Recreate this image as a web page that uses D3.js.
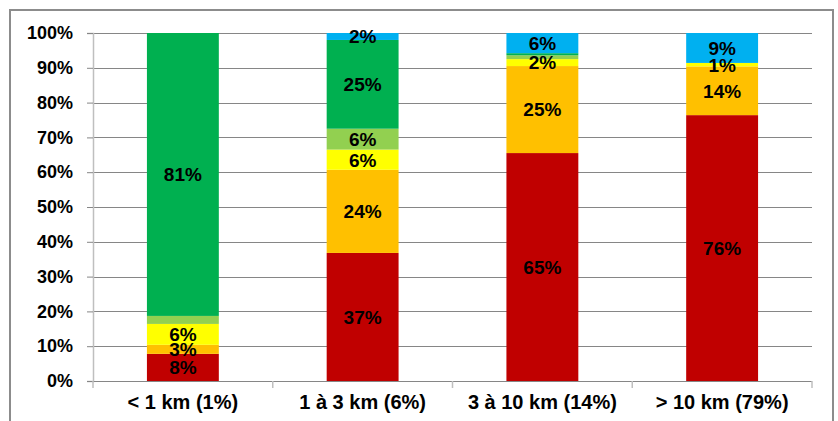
<!DOCTYPE html>
<html><head><meta charset="utf-8">
<script src="https://cdn.jsdelivr.net/npm/d3@7"></script>
<style>body{margin:0;background:#fff}svg{display:block}</style>
</head><body>
<svg id="c" width="838" height="421"></svg>
<script>
const categories = ["< 1 km (1%)", "1 à 3 km (6%)", "3 à 10 km (14%)", "> 10 km (79%)"];
const seriesNames = ["s1", "s2", "s3", "s4", "s5", "s6"];
const seriesColors = ["#C00000", "#FFC000", "#FFFF00", "#92D050", "#00B050", "#00B0F0"];
// values per series, one per category (percent)
const s1 = [7.8, 36.8, 65.5, 76.4];
const s2 = [2.6, 23.9, 25.0, 14.0];
const s3 = [6.0, 5.8, 2.0, 1.0];
const s4 = [2.3, 6.0, 1.1, 0.0];
const s5 = [81.3, 25.5, 0.6, 0.0];
const s6 = [0.0, 2.0, 5.8, 8.6];
const labelText = [
  ["8%", "37%", "65%", "76%"],
  ["3%", "24%", "25%", "14%"],
  ["6%", "6%", "2%", "1%"],
  [null, "6%", null, null],
  ["81%", "25%", null, null],
  [null, "2%", "6%", "9%"]
];
const yTicks = [0, 10, 20, 30, 40, 50, 60, 70, 80, 90, 100];

const seriesValues = [s1, s2, s3, s4, s5, s6];
const rows = categories.map((c, i) => {
  const r = {cat: c};
  seriesNames.forEach((s, j) => r[s] = seriesValues[j][i]);
  return r;
});
const stacked = d3.stack().keys(seriesNames)(rows);

const svg = d3.select("#c");
const m = {left: 93, right: 812, top: 33, bottom: 381};
const x = d3.scaleBand().domain(categories).range([m.left, m.right]).paddingInner(0.6).paddingOuter(0.3);
const xb = d3.scaleBand().domain(categories).range([m.left, m.right]);
const y = d3.scaleLinear().domain([0, 100]).range([m.bottom, m.top]);

// outer frame
svg.append("path").attr("d", `M10,${421+5} L10,10 L833,10 L833,${421+5}`)
  .attr("fill", "none").attr("stroke", "#8c8c8c").attr("stroke-width", 2);

// gridlines
svg.append("g").selectAll("line").data(yTicks.filter(t => t > 0)).join("line")
  .attr("x1", m.left).attr("x2", m.right)
  .attr("y1", d => Math.round(y(d)) + 0.5).attr("y2", d => Math.round(y(d)) + 0.5)
  .attr("stroke", "#868686").attr("stroke-width", 1);

// bars
const g = svg.append("g");
stacked.forEach((layer, j) => {
  g.selectAll(null).data(layer).join("rect")
    .attr("x", d => x(d.data.cat))
    .attr("width", x.bandwidth())
    .attr("y", d => y(d[1]))
    .attr("height", d => Math.max(0, y(d[0]) - y(d[1])))
    .attr("fill", seriesColors[j]);
});

// labels
stacked.forEach((layer, j) => {
  g.selectAll(null).data(layer.map((d, i) => ({d, t: labelText[j][i]})).filter(o => o.t)).join("text")
    .attr("x", o => x(o.d.data.cat) + x.bandwidth() / 2)
    .attr("y", o => (y(o.d[0]) + y(o.d[1])) / 2)
    .attr("dy", "0.36em")
    .attr("text-anchor", "middle")
    .attr("font-family", "Liberation Sans, Arial, sans-serif")
    .attr("font-weight", "bold").attr("font-size", 19).attr("fill", "#000")
    .text(o => o.t);
});

// y axis
const ya = svg.append("g").attr("transform", `translate(${m.left},0)`)
  .call(d3.axisLeft(y).tickValues(yTicks).tickFormat(d => d + "%").tickSize(6).tickPadding(14));
ya.select(".domain").attr("stroke", "#BFBFBF").attr("stroke-width", 1.5);
ya.selectAll(".tick line").attr("stroke", "#868686");
ya.selectAll("text").attr("font-family", "Liberation Sans, Arial, sans-serif")
  .attr("font-weight", "bold").attr("font-size", 18).attr("fill", "#000");

// x axis
const xa = svg.append("g").attr("transform", `translate(0,${m.bottom})`);
xa.append("line").attr("x1", m.left).attr("x2", m.right).attr("y1", 0.5).attr("y2", 0.5)
  .attr("stroke", "#868686");
const bounds = categories.map(c => xb(c)).concat([m.right]);
xa.selectAll("line.t").data(bounds).join("line").attr("class", "t")
  .attr("x1", d => d).attr("x2", d => d).attr("y1", 0).attr("y2", 7)
  .attr("stroke", "#BFBFBF").attr("stroke-width", 1.5);
xa.selectAll("text").data(categories).join("text")
  .attr("x", d => xb(d) + xb.bandwidth() / 2).attr("y", 28)
  .attr("text-anchor", "middle")
  .attr("font-family", "Liberation Sans, Arial, sans-serif")
  .attr("font-weight", "bold").attr("font-size", 20).attr("fill", "#000")
  .text(d => d);
</script>
</body></html>
